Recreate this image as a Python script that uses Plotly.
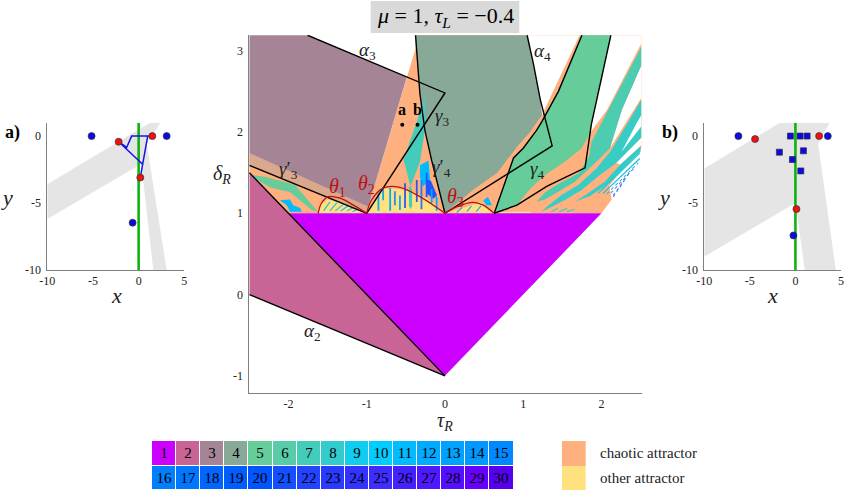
import plotly.graph_objects as go

FONT = "Liberation Serif"
ORANGE = "#FFB07F"
YELLOW = "#FFE27F"
GRAY = "#E5E5E5"
AXIS = "#808080"

region_colors = [
    "#CC00FF", "#C86496", "#A58595", "#88A898", "#66CC99", "#58CCA8", "#44CCBB", "#33CCCC",
    "#11CCEE", "#00CCFF", "#00BBFF", "#00AAFF", "#00A2FF", "#0099FF", "#0088FF",
    "#0080FF", "#0077FF", "#0066FF", "#005EFF", "#0055FF", "#1450FF", "#2244FF", "#2A3AFF",
    "#3333FF", "#3F2CFF", "#4422FF", "#5018FF", "#5510FF", "#6600FF", "#5500EE",
]

# main map, (tau_R, delta_R) outlines of the regions
base_tau = [-2.5, -2.5, -0.98, -0.375, -0.375, 2.51, 2.51, 2.26, 2.10, 2.13, 2.0, -2.0]
base_delta = [1.5, 1.74, 1.08, 3.03, 3.19, 3.19, 1.80, 1.53, 1.34, 1.17, 1.0, 1.0]
white0_tau = [1.05, 1.12, 1.21, 1.24, 1.38, 1.72]
white0_delta = [3.19, 2.85, 2.39, 2.21, 2.50, 3.19]
white1_tau = [2.12, 2.51, 2.51, 2.07, 1.865, 1.87]
white1_delta = [3.19, 3.19, 3.09, 2.27, 2.004, 2.09]
white2_tau = [2.51, 2.26, 2.108, 2.42, 2.51]
white2_delta = [2.82, 2.27, 1.80, 2.27, 2.42]
white3_tau = [2.51, 2.45, 2.257, 2.51]
white3_delta = [2.21, 2.11, 1.757, 2.07]
white4_tau = [2.51, 2.19, 2.24, 2.51]
white4_delta = [1.93, 1.62, 1.60, 1.84]
r1_tau = [-2, 2, 0]
r1_delta = [1, 1, -1]
r2_tau = [-2.5, -2, 0, -2.5]
r2_delta = [1.5, 1, -1, 0]
r3_tau = [-2.5, -1.755, -0.487, -0.98, -2.5]
r3_delta = [3.19, 3.19, 2.677, 1.08, 1.74]
speck_tau = [-2.5, -0.98, -1.0, -2.5]
speck_delta = [1.74, 1.08, 1.0, 1.59]
r4_tau = [-0.376, -0.32, -0.256, -0.17, 0, 0.36, 0.665, 0.92, 1.086, 1.24, 1.22, 1.13, 1.05]
r4_delta = [3.19, 2.47, 2.02, 1.65, 1, 1.29, 1.496, 1.815, 2.0, 2.21, 2.39, 2.84, 3.19]
r5_tau = [0.63, 0.876, 1.0, 1.17, 1.24, 1.45, 1.75, 2.12, 1.87, 1.865, 1.746, 1.533, 1.278, 1.086, 0.92]
r5_delta = [1, 1.68, 1.80, 2.02, 2.13, 2.50, 3.19, 3.19, 2.09, 2.004, 1.80, 1.634, 1.47, 1.30, 1.10]
left_green_tau = [-2.47, -2.30, -1.92, -1.62, -1.70, -1.98, -2.24, -2.43]
left_green_delta = [1.47, 1.45, 1.35, 1.02, 1.04, 1.26, 1.32, 1.43]
left_cyan_tau = [-2.11, -1.98, -1.94, -1.85, -1.83, -1.98, -2.02]
left_cyan_delta = [1.16, 1.17, 1.10, 1.065, 1.02, 1.02, 1.10]
t1_tau = [2.51, 2.09, 1.874, 1.84, 1.704, 1.448, 1.278, 1.17, 1.278, 1.448, 1.66, 1.916, 2.108, 2.26, 2.51]
t1_delta = [3.05, 2.27, 1.88, 1.696, 1.49, 1.36, 1.257, 1.143, 1.17, 1.265, 1.389, 1.614, 1.80, 2.27, 2.82]
t2_tau = [2.51, 2.42, 2.12, 1.938, 1.704, 1.49, 1.30, 1.235, 1.32, 1.533, 1.746, 1.98, 2.19, 2.51]
t2_delta = [2.40, 2.25, 1.77, 1.553, 1.347, 1.224, 1.08, 1.02, 1.06, 1.163, 1.286, 1.47, 1.62, 1.93]
t4_tau = [2.50, 2.236, 2.044, 1.83, 1.66, 1.853, 2.066, 2.257, 2.50]
t4_delta = [1.82, 1.593, 1.39, 1.245, 1.142, 1.212, 1.347, 1.532, 1.757]
mid_teal_tau = [-0.25, -0.33, -0.53, -0.44, -0.32, -0.256]
mid_teal_delta = [2.45, 2.21, 1.66, 1.33, 1.63, 2.02]
mid_cyan_tau = [-0.32, -0.21, -0.19, -0.28, -0.32]
mid_cyan_delta = [1.59, 1.65, 1.41, 1.33, 1.45]
mid_blue_tau = [-0.24, -0.18, -0.10, -0.15, -0.24]
mid_blue_delta = [1.42, 1.40, 1.22, 1.18, 1.25]
dome1_tau = [-1.62, -1.58, -1.50, -1.32, -1.0]
dome1_delta = [1.0, 1.12, 1.17, 1.125, 1.0]
dome2_tau = [-1.0, -0.79, -0.60, -0.38, -0.13, 0]
dome2_delta = [1.0, 1.31, 1.30, 1.26, 1.12, 1.0]
dome3_tau = [0, 0.28, 0.45, 0.63]
dome3_delta = [1, 1.08, 1.14, 1]
dome3_cyan_tau = [0.49, 0.55, 0.60, 0.53]
dome3_cyan_delta = [1.16, 1.20, 1.10, 1.10]
strip_tau = [0.66, 1.1, 1.1, 0.66]
strip_delta = [1, 1, 1.02, 1.02]

# vertical stripes inside the theta_2 dome
stripe_tau = [-0.85, -0.79, -0.70, -0.64, -0.575, -0.51, -0.36, -0.30, -0.234, -0.17, -0.106]
stripe_top = [1.25, 1.31, 1.31, 1.27, 1.22, 1.37, 1.41, 1.41, 1.50, 1.30, 1.20]
stripe_bottom = [1.03, 1.16, 1.03, 1.10, 1.04, 1.065, 1.14, 1.05, 1.20, 1.12, 1.03]
stripe_color = ["#11AAEE", "#11AAEE", "#00AAFF", "#3388EE", "#00AAFF", "#3355EE",
                "#3355EE", "#2277FF", "#2255FF", "#00AAFF", "#00AAFF"]
teal_stripe_tau = [-0.45, -0.44, -0.43]
teal_stripe_top = [1.33, 1.33, 1.30]
teal_stripe_bottom = [1.08, 1.06, 1.08]

# short slanted streaks in the theta_1 dome and at the foot of the bands
streak_tau0 = [-1.55, -1.47, -1.40, -1.33, -1.25, -1.18, 0.15, 0.28, 0.40, 1.36, 1.46, 1.56]
streak_delta0 = [1.03, 1.03, 1.03, 1.03, 1.03, 1.02, 1.01, 1.02, 1.02, 1.02, 1.02, 1.02]
streak_tau1 = [-1.47, -1.38, -1.30, -1.24, -1.17, -1.12, 0.22, 0.34, 0.46, 1.44, 1.56, 1.66]
streak_delta1 = [1.14, 1.13, 1.11, 1.09, 1.07, 1.05, 1.07, 1.09, 1.09, 1.06, 1.06, 1.05]
streak_color = ["#22BBEE"] * 6 + ["#22AAEE"] * 3 + ["#44CCBB"] * 3

# thin stripes running out to the outer edge
thin_tau0 = [1.96, 2.02]
thin_delta0 = [1.25, 1.245]
thin_tau1 = [2.49, 2.49]
thin_delta1 = [1.74, 1.675]
thin_color = ["#22CCD0", "#22BBE0"]
dot_tau0 = [2.07, 2.12, 2.15, 2.15]
dot_delta0 = [1.24, 1.25, 1.22, 1.20]
dot_tau1 = [2.47, 2.42, 2.36, 2.29]
dot_delta1 = [1.62, 1.56, 1.50, 1.40]
dot_color = ["#33AAEE", "#4499EE", "#4488EE", "#5577EE"]

# black boundaries
a2_tau = [-2.5, 0]
a2_delta = [0, -1]
edge_tau = [-2.5, 0]
edge_delta = [1.5, -1]
g3p_tau = [-2.5, -1]
g3p_delta = [1.59, 1]
a3_tau = [-1.755, 0, -1]
a3_delta = [3.19, 2.48, 1]
g4p_tau = [-0.376, -0.32, -0.256, -0.17, 0]
g4p_delta = [3.19, 2.47, 2.02, 1.65, 1]
a4_tau = [1.05, 1.13, 1.22, 1.37, 0]
a4_delta = [3.19, 2.84, 2.39, 1.83, 1]
g4_tau = [1.75, 1.45, 1.24, 1.17, 1.0, 0.876, 0.63, 0.92, 1.30, 1.79, 1.87, 2.12]
g4_delta = [3.19, 2.50, 2.13, 2.02, 1.80, 1.68, 1, 1.10, 1.33, 1.56, 2.09, 3.19]

# red arcs
th1_tau = [-1.62, -1.58, -1.49, -1.34, -1.17, -1.0]
th1_delta = [1, 1.12, 1.205, 1.185, 1.10, 1]
th2_tau = [-1, -0.94, -0.79, -0.575, -0.32, 0]
th2_delta = [1, 1.16, 1.31, 1.32, 1.205, 1]
th3_tau = [0, 0.15, 0.36, 0.49, 0.626]
th3_delta = [1, 1.08, 1.135, 1.10, 1]

pts_tau = [-0.545, -0.35]
pts_delta = [2.09, 2.09]

# panel a
a_gray_x = [-10, 1.24, 2.4, 0.88, 3.07, 1.6, 0.3, 0, -10]
a_gray_y = [-3.6, 1, 1, -0.55, -10, -10, -2.1, -2.2, -6.2]
a_blue_x = [-5.15, 3.07, -0.66]
a_blue_y = [0, 0, -6.47]
a_red_x = [-2.19, 1.5, 0.18]
a_red_y = [-0.42, 0, -3.1]
a_path_x = [1.5, -0.77, -1.31, -2.19, 0.44, 0.18, 0.99]
a_path_y = [0, 0, -0.85, -0.42, -2.1, -3.1, 0]

# panel b
b_gray_x = [-10, -1.72, 3.77, 2.49, 4.43, 1.02, 0, -10]
b_gray_y = [-2.42, 1, 1, -0.55, -10, -10, -5, -9]
b_blue_x = [-6.26, 3.55, -0.22]
b_blue_y = [0, 0, -7.42]
b_red_x = [-4.43, 2.6, 0.11]
b_red_y = [-0.22, 0, -5.45]
b_sq_x = [-0.55, 0.51, 1.28, -1.76, 0.88, -0.33, 0.59]
b_sq_y = [0, 0, 0, -1.2, -1.1, -1.75, -2.6]

legend_rows = [list(range(1, 16)), list(range(16, 31))]
attractor_names = ["chaotic attractor", "other attractor"]


def add_poly(fig, xs, ys, color, xa="x", ya="y"):
    fig.add_trace(go.Scatter(x=xs, y=ys, xaxis=xa, yaxis=ya, mode="lines", fill="toself",
                             fillcolor=color, line=dict(width=0), hoverinfo="skip"))


def add_line(fig, xs, ys, color="black", width=1.4, xa="x", ya="y", shape="linear", dash="solid"):
    fig.add_trace(go.Scatter(x=xs, y=ys, xaxis=xa, yaxis=ya, mode="lines", hoverinfo="skip",
                             line=dict(color=color, width=width, shape=shape, dash=dash)))


def add_dots(fig, xs, ys, color, xa, ya, symbol="circle", size=7):
    fig.add_trace(go.Scatter(x=xs, y=ys, xaxis=xa, yaxis=ya, mode="markers", hoverinfo="skip",
                             marker=dict(color=color, size=size, symbol=symbol,
                                         line=dict(color="#333333", width=0.7))))


fig = go.Figure()

add_poly(fig, base_tau, base_delta, ORANGE)
add_poly(fig, white0_tau, white0_delta, "white")
add_poly(fig, white1_tau, white1_delta, "white")
add_poly(fig, white2_tau, white2_delta, "white")
add_poly(fig, speck_tau, speck_delta, "#DAA88C")
add_poly(fig, r3_tau, r3_delta, region_colors[2])
add_poly(fig, r4_tau, r4_delta, region_colors[3])
add_poly(fig, r5_tau, r5_delta, region_colors[4])
add_poly(fig, left_green_tau, left_green_delta, region_colors[4])
add_poly(fig, left_cyan_tau, left_cyan_delta, region_colors[10])
add_poly(fig, t1_tau, t1_delta, "#4CCCB0")
add_poly(fig, t2_tau, t2_delta, "#38CCC4")
add_poly(fig, white3_tau, white3_delta, "white")
add_poly(fig, white4_tau, white4_delta, "white")
add_poly(fig, t4_tau, t4_delta, region_colors[7])
add_poly(fig, dome1_tau, dome1_delta, YELLOW)
add_poly(fig, dome2_tau, dome2_delta, YELLOW)
add_poly(fig, dome3_tau, dome3_delta, YELLOW)
add_poly(fig, strip_tau, strip_delta, YELLOW)
add_poly(fig, mid_teal_tau, mid_teal_delta, region_colors[6])
add_poly(fig, mid_cyan_tau, mid_cyan_delta, region_colors[10])
add_poly(fig, mid_blue_tau, mid_blue_delta, "#2255FF")
add_poly(fig, dome3_cyan_tau, dome3_cyan_delta, region_colors[10])

for t, top, bot, c in zip(stripe_tau, stripe_top, stripe_bottom, stripe_color):
    add_line(fig, [t, t], [bot, top], c, 1.8)
for t, top, bot in zip(teal_stripe_tau, teal_stripe_top, teal_stripe_bottom):
    add_line(fig, [t, t], [bot, top], region_colors[6], 1.6)
for t0, d0, t1, d1, c in zip(streak_tau0, streak_delta0, streak_tau1, streak_delta1, streak_color):
    add_line(fig, [t0, t1], [d0, d1], c, 1.2)
for t0, d0, t1, d1, c in zip(thin_tau0, thin_delta0, thin_tau1, thin_delta1, thin_color):
    add_line(fig, [t0, t1], [d0, d1], c, 1.3)
for t0, d0, t1, d1, c in zip(dot_tau0, dot_delta0, dot_tau1, dot_delta1, dot_color):
    add_line(fig, [t0, t1], [d0, d1], c, 1.1, dash="dot")

add_poly(fig, r2_tau, r2_delta, region_colors[1])
add_poly(fig, r1_tau, r1_delta, region_colors[0])

for xs, ys in [(a2_tau, a2_delta), (edge_tau, edge_delta), (g3p_tau, g3p_delta), (a3_tau, a3_delta),
               (g4p_tau, g4p_delta), (a4_tau, a4_delta), (g4_tau, g4_delta)]:
    add_line(fig, xs, ys)
for xs, ys in [(th1_tau, th1_delta), (th2_tau, th2_delta), (th3_tau, th3_delta)]:
    add_line(fig, xs, ys, "#BE1010", 1.3, shape="spline")
fig.add_trace(go.Scatter(x=pts_tau, y=pts_delta, mode="markers", hoverinfo="skip",
                         marker=dict(color="black", size=4)))

# side panels
add_poly(fig, a_gray_x, a_gray_y, GRAY, "x2", "y2")
add_line(fig, [0, 0], [-10, 1], "#0FB20F", 2.6, "x2", "y2")
add_line(fig, a_path_x, a_path_y, "#1414F0", 1.5, "x2", "y2")
add_dots(fig, a_blue_x, a_blue_y, "#0A0AE6", "x2", "y2")
add_dots(fig, a_red_x, a_red_y, "#F01010", "x2", "y2")

add_poly(fig, b_gray_x, b_gray_y, GRAY, "x3", "y3")
add_line(fig, [0, 0], [-10, 1], "#0FB20F", 2.6, "x3", "y3")
add_dots(fig, b_sq_x, b_sq_y, "#0A0AE6", "x3", "y3", "square", 6)
add_dots(fig, b_blue_x, b_blue_y, "#0A0AE6", "x3", "y3")
add_dots(fig, b_red_x, b_red_y, "#F01010", "x3", "y3")

# region colour key
n = len(region_colors)
key_scale = []
for i, c in enumerate(region_colors):
    key_scale += [[i / n, c], [(i + 1) / n, c]]
fig.add_trace(go.Heatmap(z=legend_rows, xaxis="x4", yaxis="y4", colorscale=key_scale, zmin=0.5, zmax=30.5,
                         showscale=False, xgap=1, ygap=1, texttemplate="%{z}", hoverinfo="skip",
                         textfont=dict(family=FONT, size=15, color="black")))
fig.add_trace(go.Heatmap(z=[[0], [1]], xaxis="x5", yaxis="y5", showscale=False, hoverinfo="skip", zmin=0, zmax=1,
                         colorscale=[[0, ORANGE], [1, YELLOW]]))


def w(px):
    return px / 850


def h(py):
    return 1 - py / 491


hidden = dict(visible=False, showgrid=False, zeroline=False, automargin=False)
panel = dict(showgrid=False, zeroline=False, showline=True, linecolor=AXIS, linewidth=1, ticks="", automargin=False,
             tickfont=dict(family=FONT, size=12, color="#222222"), ticklabelstandoff=3)
side_y = dict(panel, range=[-10, 1], tickvals=[-10, -5, 0], ticktext=["-10", "-5", "0"])
side_x = dict(panel, range=[-10, 5], tickvals=[-10, -5, 0, 5], ticktext=["-10", "-5", "0", "5"], ticklabelstandoff=0)

fig.update_layout(
    width=850, height=491, margin=dict(l=0, r=0, t=0, b=0), showlegend=False,
    paper_bgcolor="white", plot_bgcolor="white",
    font=dict(family=FONT, color="#222222"),
    xaxis=dict(panel, domain=[w(249.3), w(641.7)], range=[-2.5, 2.514], anchor="y", ticklabelstandoff=0,
               tickvals=[-2, -1, 0, 1, 2], ticktext=["-2", "-1", "0", "1", "2"]),
    yaxis=dict(panel, domain=[h(392.7), h(35)], range=[-1.207, 3.193], anchor="x",
               tickvals=[-1, 0, 1, 2, 3], ticktext=["-1", "0", "1", "2", "3"]),
    xaxis2=dict(side_x, domain=[w(47.3), w(184.3)], anchor="y2"),
    yaxis2=dict(side_y, domain=[h(270), h(122.7)], anchor="x2"),
    xaxis3=dict(side_x, domain=[w(704.3), w(841)], anchor="y3"),
    yaxis3=dict(side_y, domain=[h(270), h(122.7)], anchor="x3"),
    xaxis4=dict(hidden, domain=[w(152), w(513.5)], anchor="y4", range=[-0.5, 14.5]),
    yaxis4=dict(hidden, domain=[h(490), h(441)], anchor="x4", range=[1.5, -0.5]),
    xaxis5=dict(hidden, domain=[w(561.7), w(586)], anchor="y5", range=[-0.5, 0.5]),
    yaxis5=dict(hidden, domain=[h(490), h(441)], anchor="x5", range=[1.5, -0.5]),
)

fig.add_shape(type="rect", xref="paper", yref="paper", x0=w(370.7), x1=w(519.3), y0=h(33), y1=h(1),
              fillcolor="#D9D9D9", line_width=0, layer="below")


def note(px, py, text, size, color="#222222"):
    fig.add_annotation(x=w(px), y=h(py), xref="paper", yref="paper", text=text, showarrow=False,
                       font=dict(family=FONT, size=size, color=color), xanchor="center", yanchor="middle")


def region_note(tau, delta, text, size=19, color="#222222"):
    fig.add_annotation(x=tau, y=delta, xref="x", yref="y", text=text, showarrow=False,
                       font=dict(family=FONT, size=size, color=color), xanchor="center", yanchor="middle")


note(445, 17, "<i>μ</i> = 1, <i>τ<sub>L</sub></i> = −0.4", 22, "black")
note(445, 421, "<i>τ<sub>R</sub></i>", 20)
note(222, 174, "<i>δ<sub>R</sub></i>", 20)
note(12, 133, "<b>a)</b>", 18, "black")
note(670, 133, "<b>b)</b>", 18, "black")
note(7, 198, "<i>y</i>", 22)
note(664, 198, "<i>y</i>", 22)
note(116, 295, "<i>x</i>", 22)
note(772.7, 295, "<i>x</i>", 22)

region_note(-0.99, 3.0, "<i>α</i><sub>3</sub>")
region_note(1.24, 2.99, "<i>α</i><sub>4</sub>")
region_note(-1.69, -0.456, "<i>α</i><sub>2</sub>")
region_note(-0.03, 2.18, "<i>γ</i><sub>3</sub>")
region_note(-2.0, 1.53, "<i>γ</i>′<sub>3</sub>")
region_note(-0.04, 1.56, "<i>γ</i>′<sub>4</sub>")
region_note(1.18, 1.53, "<i>γ</i><sub>4</sub>")
region_note(-1.37, 1.32, "<i>θ</i><sub>1</sub>", 20, "#BE1010")
region_note(-1.0, 1.36, "<i>θ</i><sub>2</sub>", 20, "#BE1010")
region_note(0.13, 1.20, "<i>θ</i><sub>3</sub>", 20, "#BE1010")
region_note(-0.545, 2.28, "<b>a</b>", 16, "black")
region_note(-0.35, 2.28, "<b>b</b>", 16, "black")

for name, py in zip(attractor_names, [453, 478]):
    fig.add_annotation(x=w(598), y=h(py), xref="paper", yref="paper", text=name, showarrow=False,
                       font=dict(family=FONT, size=15, color="#222222"), xanchor="left", yanchor="middle")

fig.write_html("out.html", config={"displayModeBar": False}, post_script="document.body.style.margin='0';")
